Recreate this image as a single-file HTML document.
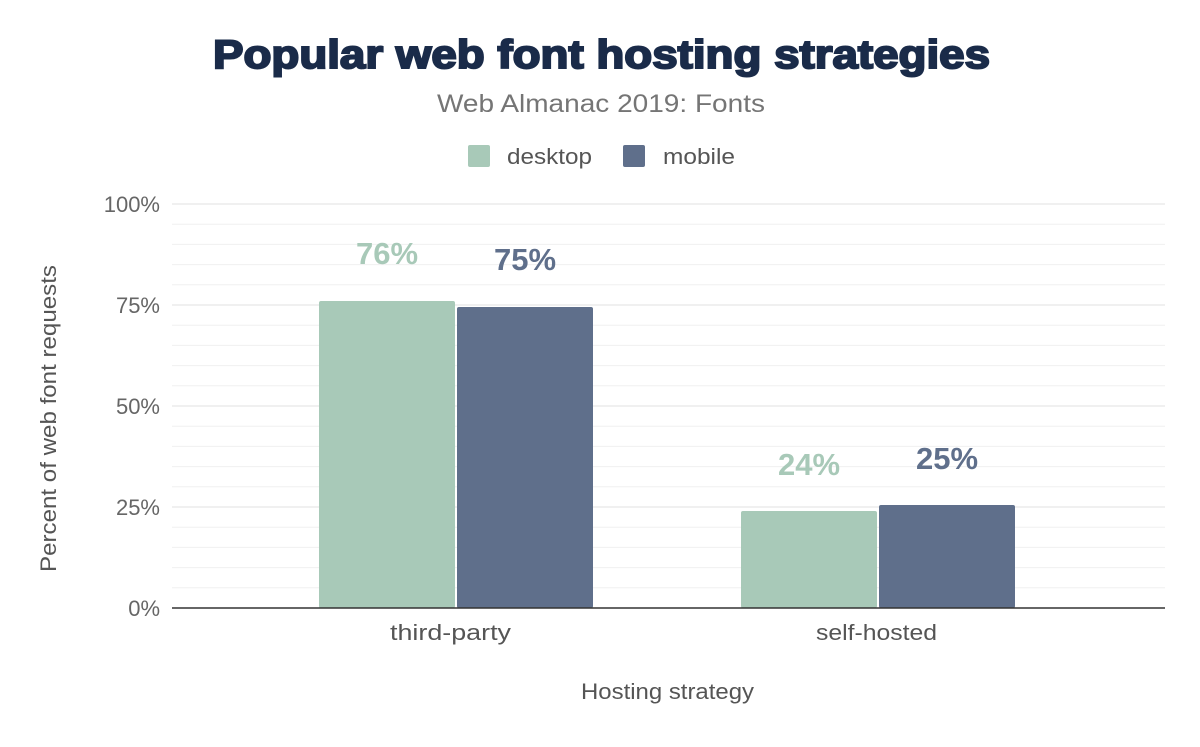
<!DOCTYPE html>
<html><head><meta charset="utf-8"><style>
body{margin:0;background:#fff;width:1200px;height:742px;overflow:hidden;font-family:"Liberation Sans",sans-serif}
</style></head><body>
<svg width="1200" height="742" xmlns="http://www.w3.org/2000/svg" font-family="Liberation Sans, sans-serif">
<text x="213" y="68" textLength="777" lengthAdjust="spacingAndGlyphs" font-size="40" font-weight="900" fill="#1a2b49" stroke="#1a2b49" stroke-width="2">Popular web font hosting strategies</text>
<text x="437" y="112" textLength="328" lengthAdjust="spacingAndGlyphs" font-size="25" fill="#757575">Web Almanac 2019: Fonts</text>
<rect x="468" y="145" width="22" height="22" rx="2" fill="#a8c9b8"/>
<text x="507" y="164" textLength="85" lengthAdjust="spacingAndGlyphs" font-size="22" fill="#555">desktop</text>
<rect x="623" y="145" width="22" height="22" rx="2" fill="#5f6f8b"/>
<text x="663" y="164" textLength="72" lengthAdjust="spacingAndGlyphs" font-size="22" fill="#555">mobile</text>
<g stroke="#f0f0f0" stroke-width="1">
<line x1="172" x2="1165" y1="224.2" y2="224.2"/><line x1="172" x2="1165" y1="244.4" y2="244.4"/><line x1="172" x2="1165" y1="264.6" y2="264.6"/><line x1="172" x2="1165" y1="284.8" y2="284.8"/>
<line x1="172" x2="1165" y1="325.2" y2="325.2"/><line x1="172" x2="1165" y1="345.4" y2="345.4"/><line x1="172" x2="1165" y1="365.6" y2="365.6"/><line x1="172" x2="1165" y1="385.8" y2="385.8"/>
<line x1="172" x2="1165" y1="426.2" y2="426.2"/><line x1="172" x2="1165" y1="446.4" y2="446.4"/><line x1="172" x2="1165" y1="466.6" y2="466.6"/><line x1="172" x2="1165" y1="486.8" y2="486.8"/>
<line x1="172" x2="1165" y1="527.2" y2="527.2"/><line x1="172" x2="1165" y1="547.4" y2="547.4"/><line x1="172" x2="1165" y1="567.6" y2="567.6"/><line x1="172" x2="1165" y1="587.8" y2="587.8"/>
</g>
<g stroke="#e2e2e2" stroke-width="1">
<line x1="172" x2="1165" y1="204" y2="204"/><line x1="172" x2="1165" y1="305" y2="305"/><line x1="172" x2="1165" y1="406" y2="406"/><line x1="172" x2="1165" y1="507" y2="507"/>
</g>
<g font-size="22" fill="#666" text-anchor="end">
<text x="160" y="212">100%</text><text x="160" y="313">75%</text><text x="160" y="414">50%</text><text x="160" y="515">25%</text><text x="160" y="616">0%</text>
</g>
<rect x="319" y="301" width="136" height="307" rx="2" fill="#a8c9b8"/>
<rect x="457" y="307" width="136" height="301" rx="2" fill="#5f6f8b"/>
<rect x="741" y="511" width="136" height="97" rx="2" fill="#a8c9b8"/>
<rect x="879" y="505" width="136" height="103" rx="2" fill="#5f6f8b"/>
<line x1="172" x2="1165" y1="608" y2="608" stroke="#333" stroke-width="1.5"/>
<g font-size="31" font-weight="bold" text-anchor="middle">
<text x="387" y="264" fill="#a8c9b8">76%</text><text x="525" y="270" fill="#5f6f8b">75%</text>
<text x="809" y="475" fill="#a8c9b8">24%</text><text x="947" y="469" fill="#5f6f8b">25%</text>
</g>
<g font-size="22" fill="#555">
<text x="390" y="640" textLength="121" lengthAdjust="spacingAndGlyphs">third-party</text>
<text x="816" y="640" textLength="121" lengthAdjust="spacingAndGlyphs">self-hosted</text>
<text x="581" y="699" textLength="173" lengthAdjust="spacingAndGlyphs">Hosting strategy</text>
<text transform="translate(56,572) rotate(-90)" textLength="307" lengthAdjust="spacingAndGlyphs">Percent of web font requests</text>
</g>
</svg>
</body></html>
